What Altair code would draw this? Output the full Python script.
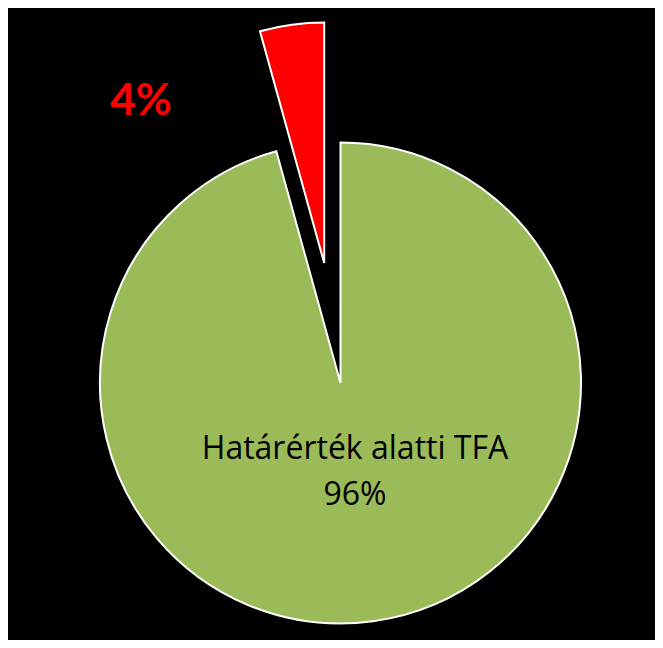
import math
import altair as alt
import pandas as pd

categories = ["Határérték alatti TFA", "Határérték feletti TFA"]
values = [95.7, 4.3]
pct_labels = ["96%", "4%"]
colors = ["#9BBB59", "#FF0000"]

# geometry (layout, not data)
W, H = 647, 632
CX, CY = 332.5, 375.0
R = 240.5
EXPLODE = 121.0

ends = []
acc = 0.0
for v in values:
    ends.append((acc, acc + v))
    acc += v
df = pd.DataFrame({
    "cat": categories,
    "value": values,
    "start": [s for s, e in ends],
    "end": [e for s, e in ends],
    "label": pct_labels,
})

total = sum(values)
red_mid = (ends[1][0] + ends[1][1]) / 2 / total * 2 * math.pi
dx = EXPLODE * math.sin(red_mid)
dy = -EXPLODE * math.cos(red_mid)

theta = alt.Theta("start:Q", stack=None,
                  scale=alt.Scale(domain=[0, total], range=[0, 2 * math.pi]))
color = alt.Color("cat:N", scale=alt.Scale(domain=categories, range=colors), legend=None)

base = alt.Chart(df)

green = base.transform_filter(alt.datum.cat == categories[0]).mark_arc(
    radius=R, stroke="white", strokeWidth=2
).encode(theta=theta, theta2="end:Q", color=color,
         x=alt.value(CX), y=alt.value(CY))

red = base.transform_filter(alt.datum.cat == categories[1]).mark_arc(
    radius=R, stroke="white", strokeWidth=2
).encode(theta=theta, theta2="end:Q", color=color,
         x=alt.value(CX + dx), y=alt.value(CY + dy))

green_label = base.transform_filter(alt.datum.cat == categories[0]).transform_calculate(
    txt="[datum.cat, datum.label]"
).mark_text(
    font="Open Sans", fontSize=32, color="black", align="center", baseline="alphabetic",
    lineHeight=46
).encode(text="txt:N", x=alt.value(347), y=alt.value(451))

red_label = base.transform_filter(alt.datum.cat == categories[1]).mark_text(
    font="Lato", fontSize=44, fontWeight="bold", color="#FF0000",
    align="center", baseline="alphabetic"
).encode(text="label:N", x=alt.value(133), y=alt.value(107))

chart = alt.layer(green, red, green_label, red_label).properties(
    width=W, height=H, autosize=alt.AutoSizeParams(type="none"), padding=0,
    background="black"
).configure_view(stroke=None, fill="black")

chart.save("out.html", embed_options={"renderer": "svg", "actions": False})
